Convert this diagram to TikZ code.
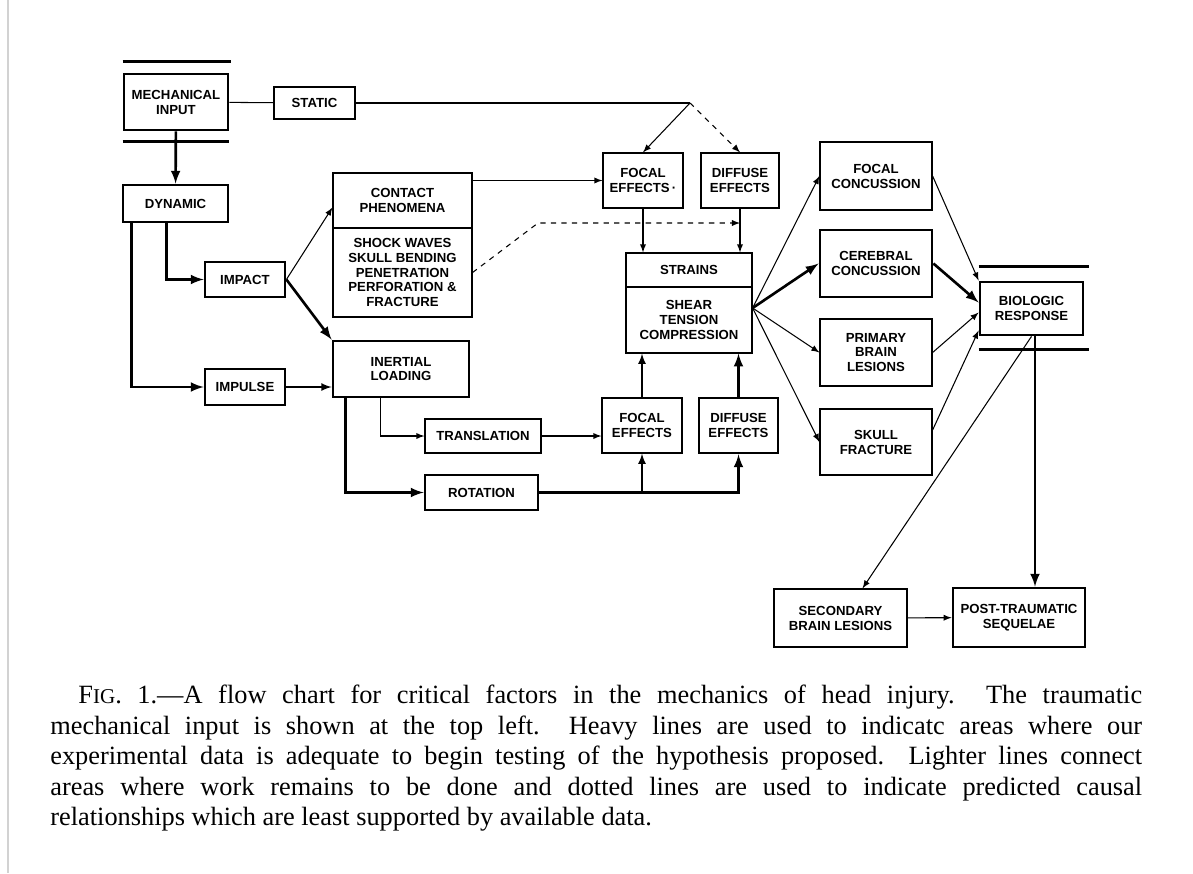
\documentclass[tikz,border=0pt]{standalone}
\usepackage{fontspec}
\setsansfont{Liberation Sans}
\newfontfamily\captionfont[Ligatures=TeX]{Liberation Serif}
\usetikzlibrary{arrows}

\begin{document}
\begin{tikzpicture}[x=0.02cm, y=-0.02cm, font=\sffamily\bfseries\fontsize{7.5}{8.5}\selectfont]
      \tikzstyle{lightbox} = [
        rectangle,
        draw,
        line width=0.7pt,
        inner sep=0pt,
        align=center
      ]

      \tikzstyle{heavybox} = [
        rectangle,
        draw,
        line width=1.6pt,
        inner sep=0pt,
        align=center
      ]

      \tikzstyle{thinline} = [line width=0.6pt]
      \tikzstyle{midline} = [line width=1pt]
      \tikzstyle{thickline} = [line width=1.5pt]

      \useasboundingbox (0,0) rectangle (1193,873);
      \draw[gray!35, line width=1.5pt] (8,0) -- (8,873);

      \node[heavybox, minimum width=2.08cm, minimum height=1.12cm] (mechanical) at (176,102) {MECHANICAL\\INPUT};
      \node[lightbox, minimum width=1.62cm, minimum height=0.64cm] (static) at (314.5,103) {STATIC};
      \node[heavybox, minimum width=2.1cm, minimum height=0.74cm] (dynamic) at (175.5,203.5) {DYNAMIC};
      \node[heavybox, minimum width=1.6cm, minimum height=0.7cm] (impact) at (245,279.5) {IMPACT};
      \node[heavybox, minimum width=1.6cm, minimum height=0.72cm] (impulse) at (245,387) {IMPULSE};
      \node[lightbox, minimum width=2.78cm, minimum height=1.1cm] (contact) at (402.5,200.5) {CONTACT\\PHENOMENA};
      \node[lightbox, minimum width=2.78cm, minimum height=1.78cm] (shock) at (402.5,272.5) {SHOCK WAVES\\SKULL BENDING\\PENETRATION\\PERFORATION \&\\FRACTURE};
      \node[heavybox, minimum width=2.72cm, minimum height=1.12cm] (inertial) at (401,369) {INERTIAL\\LOADING};
      \node[lightbox, minimum width=2.32cm, minimum height=0.68cm] (translation) at (483,436) {TRANSLATION};
      \node[heavybox, minimum width=2.26cm, minimum height=0.7cm] (rotation) at (481.5,492.5) {ROTATION};
      \node[lightbox, minimum width=1.6cm, minimum height=1.1cm] (focal top) at (643,180.5) {FOCAL\\EFFECTS\,·};
      \node[lightbox, minimum width=1.56cm, minimum height=1.1cm] (diffuse top) at (740,180.5) {DIFFUSE\\EFFECTS};
      \node[lightbox, minimum width=2.52cm, minimum height=0.68cm] (strains) at (689,270) {STRAINS};
      \node[lightbox, minimum width=2.52cm, minimum height=1.32cm] (shear) at (689,320) {SHEAR\\TENSION\\COMPRESSION};
      \node[lightbox, minimum width=1.6cm, minimum height=1.1cm] (focal low) at (642,425.5) {FOCAL\\EFFECTS};
      \node[heavybox, minimum width=1.58cm, minimum height=1.1cm] (diffuse low) at (738.5,425.5) {DIFFUSE\\EFFECTS};
      \node[lightbox, minimum width=2.24cm, minimum height=1.36cm] (focal concussion) at (876,176) {FOCAL\\CONCUSSION};
      \node[heavybox, minimum width=2.24cm, minimum height=1.34cm] (cerebral) at (876,263.5) {CEREBRAL\\CONCUSSION};
      \node[lightbox, minimum width=2.24cm, minimum height=1.34cm] (primary) at (876,352.5) {PRIMARY\\BRAIN\\LESIONS};
      \node[lightbox, minimum width=2.24cm, minimum height=1.32cm] (skull) at (876,442) {SKULL\\FRACTURE};
      \node[heavybox, minimum width=2.06cm, minimum height=1.06cm] (biologic) at (1031.5,308.5) {BIOLOGIC\\RESPONSE};
      \node[lightbox, minimum width=2.66cm, minimum height=1.16cm] (secondary) at (840.5,618) {SECONDARY\\BRAIN LESIONS};
      \node[heavybox, minimum width=2.64cm, minimum height=1.18cm] (sequelae) at (1019,617.5) {POST-TRAUMATIC\\SEQUELAE};

      \node[anchor=north west, inner sep=0pt, text width=21.84cm, align=justify,
        font=\captionfont\fontsize{15}{17.36}\selectfont] (caption) at (50,685)
        {\hyphenpenalty=10000\hspace*{0.56cm}F{\fontsize{12}{17.36}\selectfont IG}. 1.---A flow chart for critical factors in the mechanics of head injury.\ \ The traumatic\linebreak
        mechanical input is shown at the top left.\ \ Heavy lines are used to indicatc areas where our\linebreak
        experimental data is adequate to begin testing of the hypothesis proposed.\ \ Lighter lines connect\linebreak
        areas where work remains to be done and dotted lines are used to indicate predicted causal\linebreak
        relationships which are least supported by available data.};

      % double bars
      \draw[thickline] ([shift={(0,-11)}]mechanical.north west) -- ([shift={(2,-11)}]mechanical.north east);
      \draw[thickline] ([shift={(0,10)}]mechanical.south west) -- ([shift={(0,10)}]mechanical.south east);
      \draw[thickline] ([shift={(0,-14)}]biologic.north west) -- ([shift={(5,-14)}]biologic.north east);
      \draw[thickline] ([shift={(0,13)}]biologic.south west) -- ([shift={(5,13)}]biologic.south east);

      \coordinate (split) at (690,103);
      \coordinate (bend) at (538,223);
      \coordinate (fan) at ([shift={(0,-12)}]shear.east);

      \draw[thinline] (mechanical) -- (static);
      \draw[thinline] (static) -- (split);
      \draw[thinline,-latex] (split) -- (focal top.north);
      \draw[thinline,dashed,-latex] (split) -- (diffuse top.north);
      \draw[thickline,-latex] (mechanical) -- (dynamic);
      \draw[thickline,-latex] ([shift={(10,0)}]dynamic.south west) |- (impulse);
      \draw[thickline,-latex] ([shift={(45,0)}]dynamic.south west) |- (impact);
      \draw[thinline,-latex] (impact.east) -- ([shift={(0,7)}]contact.west);
      \draw[thickline,-latex] (impact.east) -- (inertial.north west);
      \draw[midline,-latex] (impulse) -- (impulse -| inertial.west);
      \draw[thinline,-latex] (contact.east |- focal top) -- (focal top);
      \draw[thinline,dashed,-latex] (shock.east) -- (bend) -- (bend -| diffuse top.south);
      \draw[thinline,-latex] (focal top.south) -- (focal top.south |- strains.north);
      \draw[thinline,-latex] (diffuse top.south) -- (diffuse top.south |- strains.north);
      \draw[thinline,-latex] ([shift={(49,0)}]inertial.south west) |- (translation);
      \draw[thickline,-latex] ([shift={(14,0)}]inertial.south west) |- (rotation);
      \draw[thinline,-latex] (translation.east) -- (translation.east -| focal low.west);
      \draw[thickline,-latex] (rotation.east) -| (diffuse low.south);
      \draw[midline,-latex] (rotation.east -| focal low.south) -- (focal low.south);
      \draw[midline,-latex] (focal low.north) -- (focal low.north |- shear.south);
      \draw[thickline,-latex] (diffuse low.north) -- (diffuse low.north |- shear.south);
      \draw[thinline,-latex] (fan) -- (focal concussion.west);
      \draw[thickline,-latex] (fan) -- (cerebral.west);
      \draw[thinline,-latex] (fan) -- (primary.west);
      \draw[thinline,-latex] (fan) -- (skull.west);
      \draw[thinline,-latex] (focal concussion.east) -- ([shift={(0,-28)}]biologic.west);
      \draw[thickline,-latex] (cerebral.east) -- ([shift={(0,-6)}]biologic.west);
      \draw[thinline,-latex] (primary.east) -- ([shift={(0,4)}]biologic.west);
      \draw[thinline,-latex] ([shift={(0,-12)}]skull.east) -- ([shift={(0,22)}]biologic.west);
      \draw[thickline,-latex] ([shift={(3.5,0)}]biologic.south) -- ([shift={(3.5,0)}]biologic.south |- sequelae.north);
      \draw[thinline,-latex] (biologic.south) -- ([shift={(22,0)}]secondary.north);
      \draw[thinline,-latex] (secondary) -- (sequelae);
    \end{tikzpicture}
\end{document}
